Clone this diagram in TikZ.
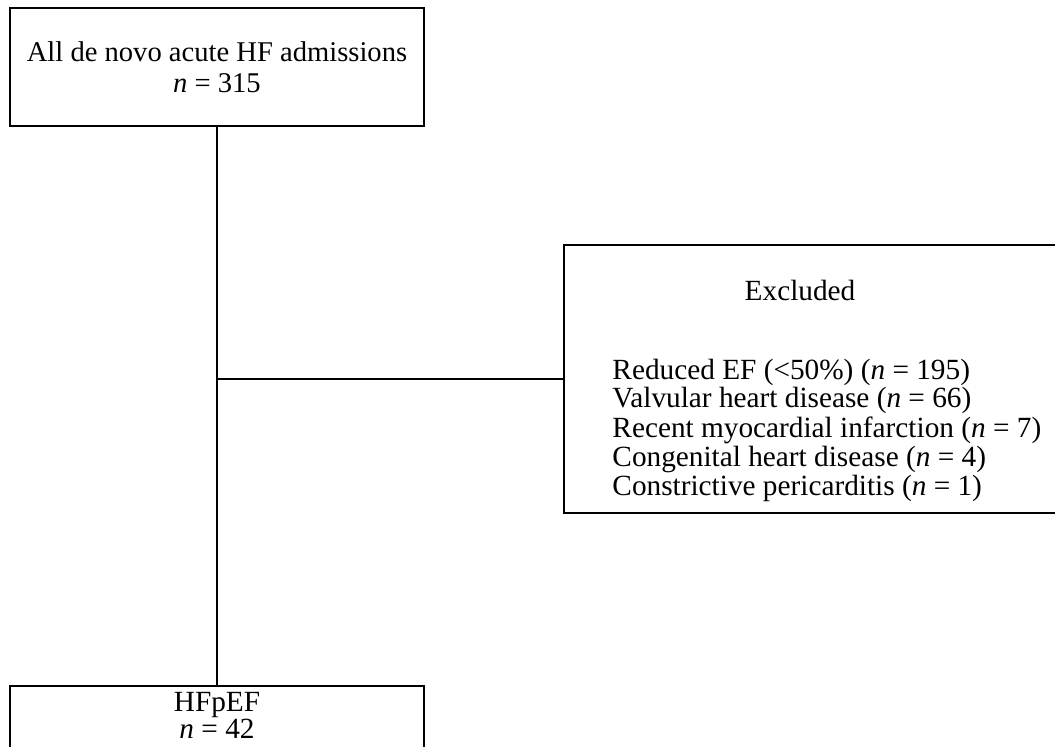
\documentclass[tikz,border=0pt]{standalone}
\usepackage{fontspec}
\setmainfont{Liberation Serif}
\usetikzlibrary{positioning}

\tikzset{
    flowbox/.style = {draw = black, line width = 1.0pt, fill = white, align = center,
        font = \fontsize{12.2}{13.2}\selectfont},
    flowtext/.style = {align = left, inner sep = 0pt, font = \fontsize{12.5}{11.2}\selectfont},
    flowline/.style = {draw = black, line width = 1.0pt}
}

\begin{document}
\begin{tikzpicture}
    % Frame of the picture
    \useasboundingbox (+0.000, +0.000) rectangle (+15.825, -11.205);
    \clip (+0.000, +0.000) rectangle (+15.825, -11.205);

    % All admissions
    \node[flowbox, minimum width = 6.21cm, minimum height = 1.77cm] (admit) at (+3.255, -1.005)
    {All de novo acute HF admissions\\\textit{n} = 315};

    % Excluded
    \node[flowbox, minimum width = 8.04cm, minimum height = 4.02cm] (excl) at (+12.480, -5.685) {};
    \node[flowtext] (excltitle) at (+12.000, -4.350) {Excluded};
    \node[flowtext, anchor = west] (excllist) at (+9.180, -6.450)
    {Reduced EF (<50\%) (\textit{n} = 195)\\
     Valvular heart disease (\textit{n} = 66)\\
     Recent myocardial infarction (\textit{n} = 7)\\
     Congenital heart disease (\textit{n} = 4)\\
     Constrictive pericarditis (\textit{n} = 1)};

    % HFpEF
    \node[flowbox, minimum width = 6.21cm, anchor = north, inner ysep = 2.5pt, text depth = 2cm,
        font = \fontsize{12.5}{11.8}\selectfont] (hfpef) at (+3.255, -10.275)
    {HFpEF\\\textit{n} = 42};

    % Connectors
    \draw[flowline] (admit.south) -- (hfpef.north);
    \draw[flowline] (admit.south |- excl.west) -- (excl.west);
\end{tikzpicture}
\end{document}
